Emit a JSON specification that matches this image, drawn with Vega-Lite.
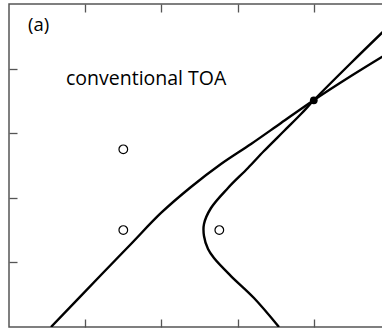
{
  "$schema": "https://vega.github.io/schema/vega-lite/v6.json",
  "width": 381,
  "height": 323,
  "padding": {"left": 8, "top": 3, "right": 0, "bottom": 4},
  "background": "white",
  "config": {
    "view": {"stroke": "#555", "strokeWidth": 1.5},
    "axis": {"grid": false, "labels": false, "domain": false, "tickSize": -8, "tickColor": "#555", "tickWidth": 1.3}
  },
  "datasets": {
    "curves": [
      {"curve": "A", "i": 0, "x": 0.551, "y": 0.0},
      {"curve": "A", "i": 1, "x": 1.207, "y": 0.805},
      {"curve": "A", "i": 2, "x": 1.601, "y": 1.285},
      {"curve": "A", "i": 3, "x": 1.995, "y": 1.765},
      {"curve": "A", "i": 4, "x": 2.388, "y": 2.167},
      {"curve": "A", "i": 5, "x": 2.782, "y": 2.523},
      {"curve": "A", "i": 6, "x": 3.176, "y": 2.833},
      {"curve": "A", "i": 7, "x": 3.57, "y": 3.158},
      {"curve": "A", "i": 8, "x": 4.003, "y": 3.514},
      {"curve": "A", "i": 9, "x": 4.488, "y": 3.885},
      {"curve": "A", "i": 10, "x": 5.0, "y": 4.257},
      {"curve": "B", "i": 0, "x": 3.543, "y": 0.0},
      {"curve": "B", "i": 1, "x": 3.215, "y": 0.449},
      {"curve": "B", "i": 2, "x": 2.913, "y": 0.789},
      {"curve": "B", "i": 3, "x": 2.69, "y": 1.068},
      {"curve": "B", "i": 4, "x": 2.612, "y": 1.207},
      {"curve": "B", "i": 5, "x": 2.559, "y": 1.409},
      {"curve": "B", "i": 6, "x": 2.559, "y": 1.594},
      {"curve": "B", "i": 7, "x": 2.651, "y": 1.842},
      {"curve": "B", "i": 8, "x": 2.874, "y": 2.152},
      {"curve": "B", "i": 9, "x": 3.136, "y": 2.461},
      {"curve": "B", "i": 10, "x": 3.346, "y": 2.724},
      {"curve": "B", "i": 11, "x": 3.609, "y": 3.034},
      {"curve": "B", "i": 12, "x": 3.832, "y": 3.297},
      {"curve": "B", "i": 13, "x": 4.003, "y": 3.514},
      {"curve": "B", "i": 14, "x": 4.488, "y": 4.087},
      {"curve": "B", "i": 15, "x": 5.0, "y": 4.675}
    ],
    "circles": [
      {"x": 1.5, "y": 2.75},
      {"x": 1.5, "y": 1.5},
      {"x": 2.76, "y": 1.5}
    ],
    "dot": [
      {"x": 4.0, "y": 3.51}
    ],
    "panel": [
      {"x": 0.249, "y": 4.58, "label": "(a)"}
    ],
    "note": [
      {"x": 0.748, "y": 3.746, "label": "conventional TOA"}
    ]
  },
  "layer": [
    {
      "data": {"name": "curves"},
      "mark": {"type": "line", "color": "black", "strokeWidth": 2.4, "clip": true, "interpolate": "catmull-rom"},
      "encoding": {
        "x": {"field": "x", "type": "quantitative", "scale": {"domain": [0, 5], "nice": false, "zero": false}, "axis": {"orient": "bottom", "values": [1, 2, 3, 4], "title": null}},
        "y": {"field": "y", "type": "quantitative", "scale": {"domain": [0, 5], "nice": false, "zero": false}, "axis": {"orient": "left", "values": [1, 2, 3, 4], "title": null}},
        "detail": {"field": "curve"},
        "order": {"field": "i", "type": "quantitative"}
      }
    },
    {
      "data": {"name": "circles"},
      "mark": {"type": "point", "filled": false, "color": "black", "strokeWidth": 1.2, "size": 75, "opacity": 1},
      "encoding": {
        "x": {"field": "x", "type": "quantitative", "axis": {"orient": "top", "values": [1, 2, 3, 4], "title": null}},
        "y": {"field": "y", "type": "quantitative", "axis": {"orient": "right", "values": [1, 2, 3, 4], "title": null}}
      }
    },
    {
      "data": {"name": "dot"},
      "mark": {"type": "circle", "color": "black", "size": 60, "opacity": 1},
      "encoding": {
        "x": {"field": "x", "type": "quantitative", "axis": null},
        "y": {"field": "y", "type": "quantitative", "axis": null}
      }
    },
    {
      "data": {"name": "panel"},
      "mark": {"type": "text", "align": "left", "baseline": "alphabetic", "font": "Open Sans", "fontSize": 18.5, "color": "black"},
      "encoding": {
        "x": {"field": "x", "type": "quantitative", "axis": null},
        "y": {"field": "y", "type": "quantitative", "axis": null},
        "text": {"field": "label"}
      }
    },
    {
      "data": {"name": "note"},
      "mark": {"type": "text", "align": "left", "baseline": "alphabetic", "font": "Open Sans", "fontSize": 19.5, "color": "black"},
      "encoding": {
        "x": {"field": "x", "type": "quantitative", "axis": null},
        "y": {"field": "y", "type": "quantitative", "axis": null},
        "text": {"field": "label"}
      }
    }
  ],
  "resolve": {"axis": {"x": "independent", "y": "independent"}}
}
